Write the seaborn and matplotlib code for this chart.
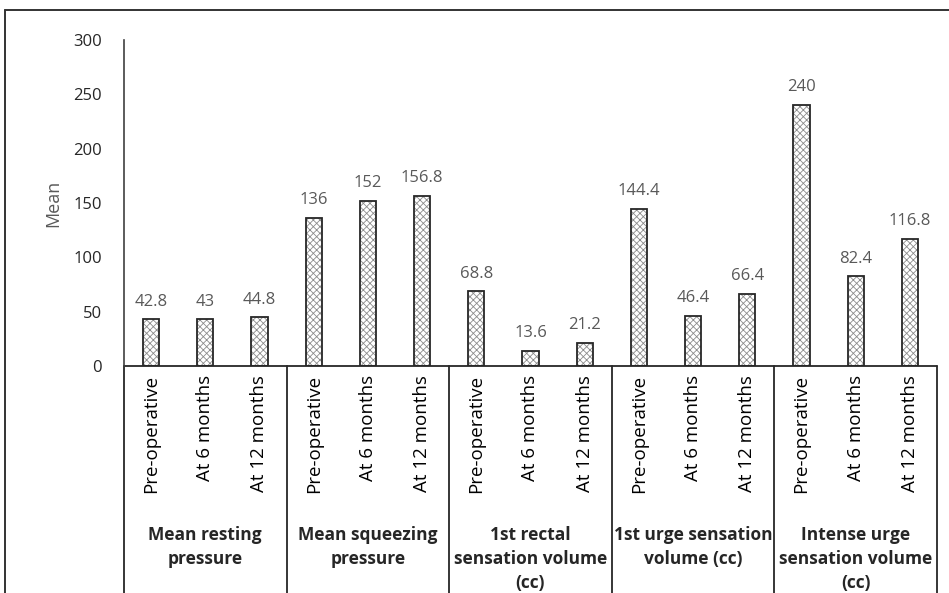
import matplotlib
matplotlib.use("Agg")
import matplotlib.pyplot as plt
from matplotlib.patches import Rectangle
from matplotlib.lines import Line2D
import seaborn as sns
import pandas as pd

# Measures (outer category level) and time points (inner level)
measures = [
    "Mean resting\npressure",
    "Mean squeezing\npressure",
    "1st rectal\nsensation volume\n(cc)",
    "1st urge sensation\nvolume (cc)",
    "Intense urge\nsensation volume\n(cc)",
]
timepoints = ["Pre-operative", "At 6 months", "At 12 months"]

resting = [42.8, 43, 44.8]
squeezing = [136, 152, 156.8]
rectal_volume = [68.8, 13.6, 21.2]
urge_volume = [144.4, 46.4, 66.4]
intense_volume = [240, 82.4, 116.8]

y_ticks = [0, 50, 100, 150, 200, 250, 300]

series = [resting, squeezing, rectal_volume, urge_volume, intense_volume]
rows = []
for m, vals in zip(measures, series):
    for t, v in zip(timepoints, vals):
        rows.append({"key": f"{m}|{t}", "measure": m, "time": t, "mean": v})
df = pd.DataFrame(rows)

sns.set_theme(style="white")
plt.rcParams["font.family"] = ["Open Sans", "DejaVu Sans"]
plt.rcParams["hatch.linewidth"] = 0.6

W, H = 949, 593
fig = plt.figure(figsize=(W / 100, H / 100), dpi=100)
ax = fig.add_axes([124 / W, 1 - 366 / H, (937 - 124) / W, (366 - 40) / H])

sns.barplot(data=df, x="key", y="mean", order=list(df["key"]), ax=ax,
            color="white", width=0.3, edgecolor="#8c8c8c", linewidth=0,
            hatch="xxxxx", errorbar=None)

# crisp dark outline over each hatched bar
for p in list(ax.patches):
    ax.add_patch(Rectangle(p.get_xy(), p.get_width(), p.get_height(),
                           facecolor="none", edgecolor="#262626", linewidth=1.3,
                           zorder=3))

ax.bar_label(ax.containers[0], labels=[f"{v:g}" for v in df["mean"]],
             padding=7, color="#595959", fontsize=12)

ax.set_xlim(-0.5, len(df) - 0.5)
ax.set_ylim(0, 300)
ax.set_yticks(y_ticks)
ax.set_yticklabels([str(t) for t in y_ticks], fontsize=12, color="#262626")
ax.tick_params(axis="y", length=0, pad=16)
ax.set_xticks([])
ax.set_xlabel("")
ax.set_ylabel("Mean", fontsize=13, color="#595959", labelpad=8)

for s in ["top", "right", "bottom"]:
    ax.spines[s].set_visible(False)
ax.spines["left"].set_color("#404040")
ax.spines["left"].set_linewidth(1.2)

# multi-level category axis below the plot
tr = ax.get_xaxis_transform()
ax.plot([-0.5, len(df) - 0.5], [0, 0], color="#262626", lw=1.3,
        transform=tr, clip_on=False)
n_t = len(timepoints)
for g in range(len(measures) + 1):
    xb = g * n_t - 0.5
    ax.plot([xb, xb], [0, -0.72], color="#262626", lw=1.3,
            transform=tr, clip_on=False)
for i, row in df.iterrows():
    ax.text(i, -0.027, row["time"], rotation=90, ha="center", va="top",
            fontsize=13.5, color="#000000", transform=tr)
for g, m in enumerate(measures):
    ax.text(g * n_t + 1, -0.49, m, ha="center", va="top", fontsize=12.5,
            fontweight="bold", color="#262626", linespacing=1.45,
            transform=tr)

# outer frame lines
fig.add_artist(Line2D([5 / W, 1], [1 - 10 / H, 1 - 10 / H], color="#333333", lw=1.4))
fig.add_artist(Line2D([5 / W, 5 / W], [0, 1 - 10 / H], color="#333333", lw=1.4))

fig.savefig("out.png", dpi=100, facecolor="white")
